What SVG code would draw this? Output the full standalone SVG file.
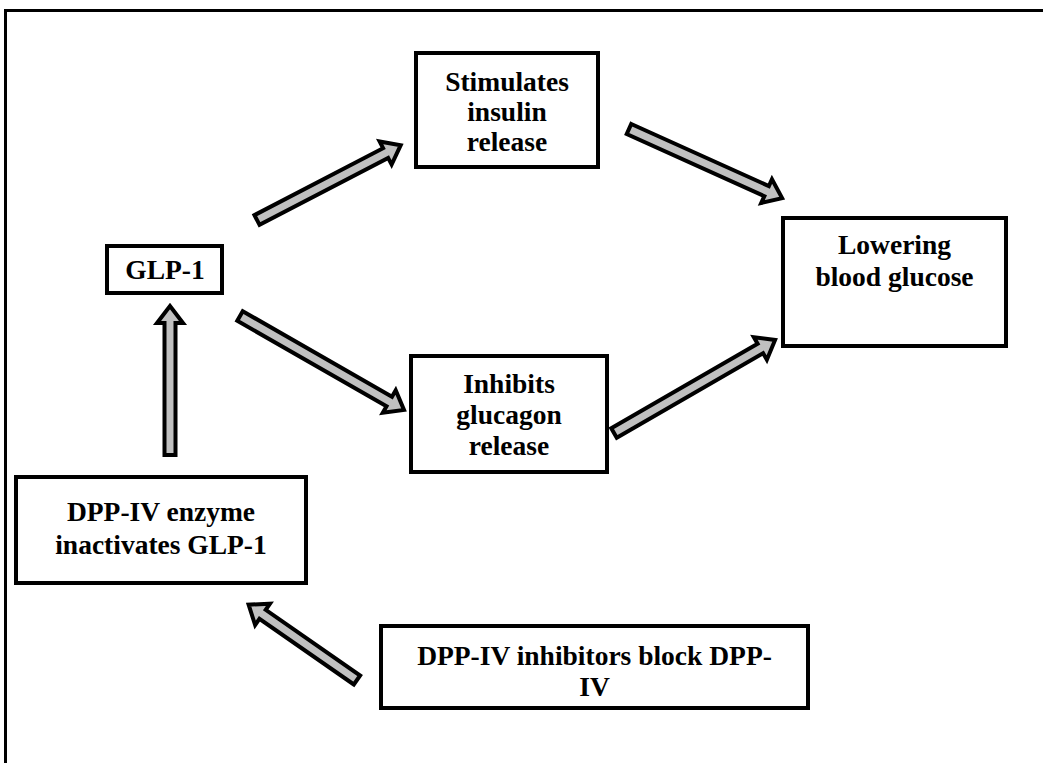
<svg xmlns="http://www.w3.org/2000/svg" width="1043" height="763" viewBox="0 0 1043 763">
<style>
.box{fill:#fff;stroke:#000;stroke-width:4}
.t{font-family:"Liberation Serif","Times New Roman",serif;font-weight:bold;font-size:27.5px;fill:#000;text-anchor:middle}
.arr{fill:#c0c0c0;stroke:#000;stroke-width:4;stroke-linejoin:miter}
</style>
<rect x="0" y="0" width="1043" height="763" fill="#fff"/>
<path d="M5.5,763 V10.5 H1043" fill="none" stroke="#000" stroke-width="3"/>
<g id="connectors">
<polygon class="arr" transform="translate(257,220) rotate(-27.5)" points="0,-5.5 145,-5.5 145,-13 162,0 145,13 145,5.5 0,5.5"/>
<polygon class="arr" transform="translate(240,316) rotate(29.8)" points="0,-5.5 172,-5.5 172,-13 189,0 172,13 172,5.5 0,5.5"/>
<polygon class="arr" transform="translate(629,129) rotate(24.3)" points="0,-5.5 151,-5.5 151,-13 168,0 151,13 151,5.5 0,5.5"/>
<polygon class="arr" transform="translate(614,433) rotate(-30)" points="0,-5.5 169,-5.5 169,-13 186,0 169,13 169,5.5 0,5.5"/>
<polygon class="arr" transform="translate(170,455) rotate(-90)" points="0,-5.5 132,-5.5 132,-13 149,0 132,13 132,5.5 0,5.5"/>
<polygon class="arr" transform="translate(357,680) rotate(-145.2)" points="0,-5.5 115,-5.5 115,-13 132,0 115,13 115,5.5 0,5.5"/>
</g>
<g id="stimulates">
<rect class="box" x="416" y="53" width="182" height="114"/>
<text class="t" x="507" y="91">Stimulates</text>
<text class="t" x="507" y="121">insulin</text>
<text class="t" x="507" y="151">release</text>
</g>
<g id="glp1">
<rect class="box" x="107" y="246" width="115" height="47"/>
<text class="t" x="165" y="279">GLP-1</text>
</g>
<g id="lowering">
<rect class="box" x="783" y="218" width="223" height="128"/>
<text class="t" x="894.5" y="254">Lowering</text>
<text class="t" x="894.5" y="286">blood glucose</text>
</g>
<g id="inhibits">
<rect class="box" x="411" y="356" width="196" height="116"/>
<text class="t" x="509" y="393">Inhibits</text>
<text class="t" x="509" y="424">glucagon</text>
<text class="t" x="509" y="455">release</text>
</g>
<g id="dppiv_enzyme">
<rect class="box" x="16" y="477" width="290" height="106"/>
<text class="t" x="161" y="521">DPP-IV enzyme</text>
<text class="t" x="161" y="554">inactivates GLP-1</text>
</g>
<g id="dppiv_inhibitors">
<rect class="box" x="381" y="626" width="427" height="82"/>
<text class="t" x="594.5" y="665">DPP-IV inhibitors block DPP-</text>
<text class="t" x="594.5" y="696">IV</text>
</g>
</svg>
